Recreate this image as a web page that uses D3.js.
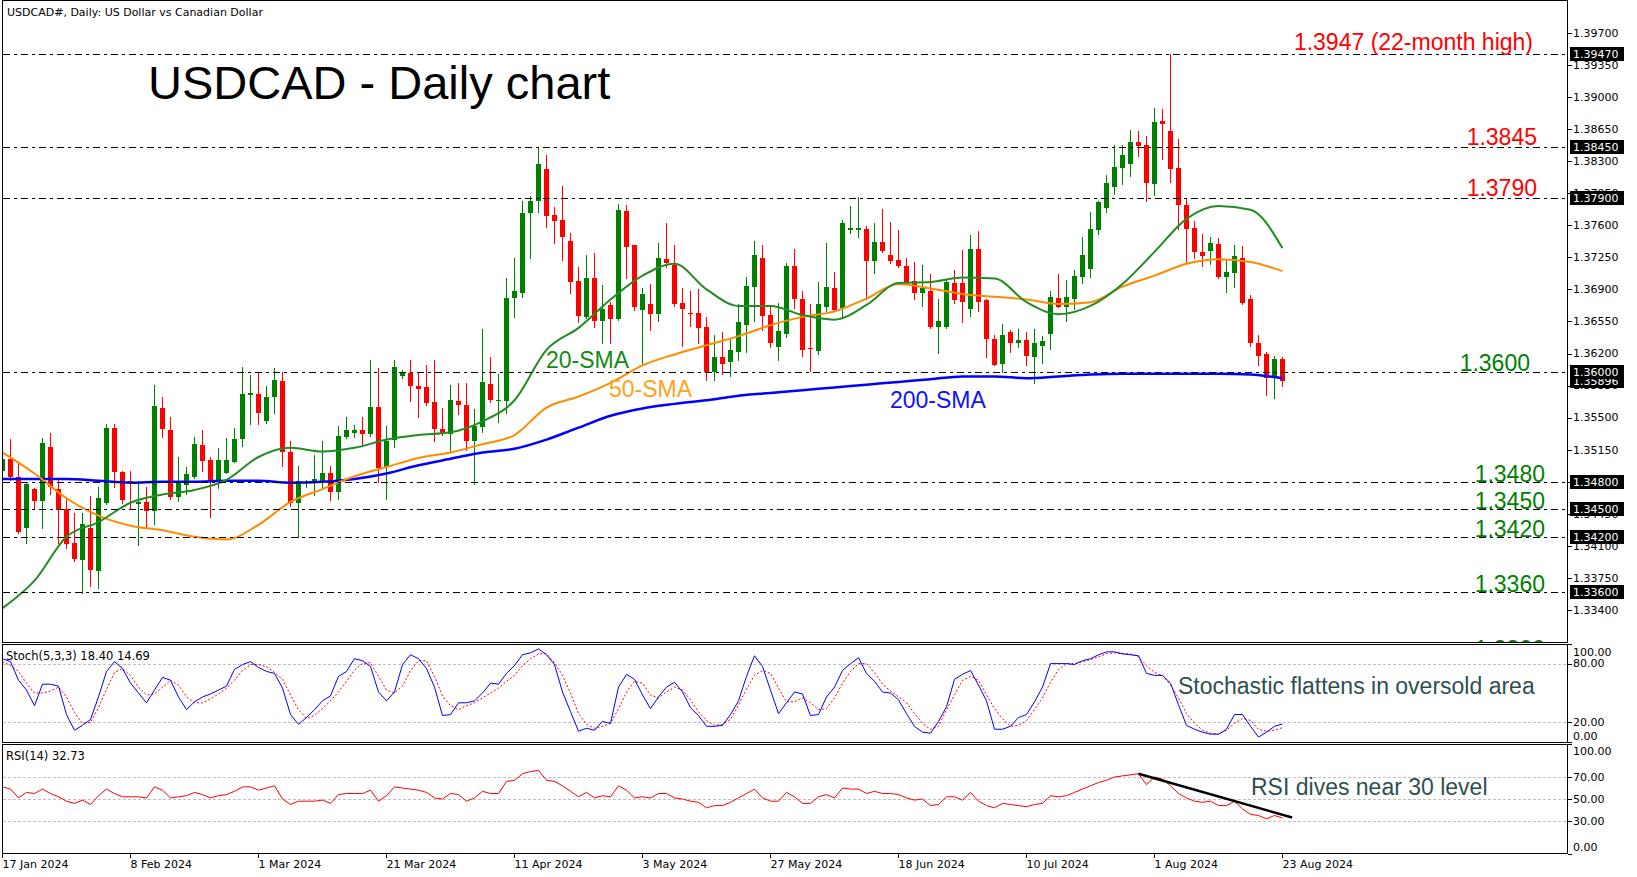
<!DOCTYPE html>
<html>
<head>
<meta charset="utf-8">
<script src="https://cdn.jsdelivr.net/npm/d3@7"></script>
<style>
  body { margin: 0; background: #fff; }
  svg { display: block; font-family: "DejaVu Sans", sans-serif; }
</style>
</head>
<body>
<svg width="1637" height="877"></svg>
<script>
// daily candles, 17 Jan 2024 .. 23 Aug 2024
const open = [
  1.3492, 1.3505, 1.3485, 1.3430, 1.3472, 1.3459, 1.3518, 1.3472, 1.3450, 1.3413,
  1.3395, 1.3430, 1.3383, 1.3457, 1.3539, 1.3491, 1.3481, 1.3456, 1.3458, 1.3448,
  1.3560, 1.3537, 1.3463, 1.3476, 1.3485, 1.3520, 1.3504, 1.3480, 1.3490, 1.3502,
  1.3527, 1.3575, 1.3576, 1.3546, 1.3572, 1.3590, 1.3512, 1.3457, 1.3479, 1.3481,
  1.3481, 1.3490, 1.3469, 1.3529, 1.3533, 1.3536, 1.3532, 1.3562, 1.3496, 1.3526,
  1.3595, 1.3599, 1.3584, 1.3583, 1.3567, 1.3538, 1.3532, 1.3568, 1.3564, 1.3525,
  1.3540, 1.3587, 1.3568, 1.3568, 1.3681, 1.3686, 1.3773, 1.3786, 1.3822, 1.3771,
  1.3766, 1.3743, 1.3699, 1.3660, 1.3702, 1.3655, 1.3673, 1.3658, 1.3776, 1.3738,
  1.3668, 1.3674, 1.3663, 1.3723, 1.3717, 1.3675, 1.3664, 1.3664, 1.3649, 1.3600,
  1.3616, 1.3611, 1.3622, 1.3651, 1.3693, 1.3724, 1.3662, 1.3627, 1.3641, 1.3716,
  1.3679, 1.3626, 1.3623, 1.3671, 1.3692, 1.3670, 1.3755, 1.3755, 1.3756, 1.3721,
  1.3742, 1.3728, 1.3722, 1.3716, 1.3699, 1.3686, 1.3688, 1.3649, 1.3649, 1.3697,
  1.3697, 1.3669, 1.3734, 1.3678, 1.3636, 1.3609, 1.3643, 1.3632, 1.3635, 1.3616,
  1.3628, 1.3641, 1.3681, 1.3671, 1.3680, 1.3704, 1.3712, 1.3755, 1.3779, 1.3802,
  1.3823, 1.3827, 1.3851, 1.3848, 1.3805, 1.3874, 1.3863, 1.3823, 1.3782, 1.3757,
  1.3731, 1.3732, 1.3740, 1.3703, 1.3708, 1.3724, 1.3679, 1.3632, 1.3619, 1.3593,
  1.3614
];
const high = [
  1.3507, 1.3527, 1.3502, 1.3479, 1.3473, 1.3528, 1.3533, 1.3483, 1.3461, 1.3446,
  1.3446, 1.3464, 1.3474, 1.3543, 1.3543, 1.3492, 1.3492, 1.3481, 1.3474, 1.3586,
  1.3572, 1.3551, 1.3507, 1.3496, 1.3529, 1.3536, 1.3507, 1.3517, 1.3528, 1.3539,
  1.3605, 1.3597, 1.3600, 1.3584, 1.3604, 1.3600, 1.3525, 1.3497, 1.3482, 1.3509,
  1.3525, 1.3497, 1.3541, 1.3551, 1.3542, 1.3551, 1.3613, 1.3604, 1.3541, 1.3613,
  1.3602, 1.3613, 1.3600, 1.3608, 1.3613, 1.3561, 1.3586, 1.3588, 1.3588, 1.3559,
  1.3647, 1.3616, 1.3598, 1.3702, 1.3724, 1.3786, 1.3792, 1.3846, 1.3837, 1.3780,
  1.3803, 1.3752, 1.3714, 1.3728, 1.3730, 1.3695, 1.3676, 1.3783, 1.3782, 1.3739,
  1.3691, 1.3696, 1.3741, 1.3762, 1.3738, 1.3691, 1.3688, 1.3690, 1.3660, 1.3640,
  1.3643, 1.3636, 1.3674, 1.3704, 1.3743, 1.3738, 1.3672, 1.3675, 1.3719, 1.3734,
  1.3688, 1.3674, 1.3698, 1.3741, 1.3709, 1.3766, 1.3781, 1.3791, 1.3759, 1.3763,
  1.3778, 1.3764, 1.3755, 1.3724, 1.3720, 1.3717, 1.3707, 1.3680, 1.3700, 1.3711,
  1.3733, 1.3749, 1.3754, 1.3679, 1.3640, 1.3652, 1.3646, 1.3647, 1.3643, 1.3647,
  1.3639, 1.3688, 1.3707, 1.3700, 1.3711, 1.3747, 1.3774, 1.3786, 1.3815, 1.3848,
  1.3848, 1.3864, 1.3863, 1.3857, 1.3888, 1.3887, 1.3947, 1.3854, 1.3789, 1.3765,
  1.3751, 1.3747, 1.3746, 1.3722, 1.3738, 1.3737, 1.3684, 1.3640, 1.3622, 1.3617,
  1.3616
];
const low = [
  1.3490, 1.3482, 1.3424, 1.3413, 1.3451, 1.3429, 1.3467, 1.3413, 1.3408, 1.3393,
  1.3358, 1.3366, 1.3364, 1.3456, 1.3474, 1.3457, 1.3451, 1.3411, 1.3430, 1.3434,
  1.3529, 1.3461, 1.3459, 1.3467, 1.3484, 1.3492, 1.3441, 1.3473, 1.3489, 1.3501,
  1.3519, 1.3543, 1.3543, 1.3544, 1.3555, 1.3497, 1.3453, 1.3420, 1.3474, 1.3466,
  1.3474, 1.3460, 1.3461, 1.3528, 1.3529, 1.3520, 1.3530, 1.3480, 1.3461, 1.3518,
  1.3593, 1.3568, 1.3551, 1.3564, 1.3524, 1.3531, 1.3513, 1.3554, 1.3515, 1.3477,
  1.3534, 1.3567, 1.3545, 1.3555, 1.3660, 1.3682, 1.3724, 1.3774, 1.3758, 1.3741,
  1.3722, 1.3686, 1.3654, 1.3659, 1.3649, 1.3632, 1.3631, 1.3657, 1.3702, 1.3668,
  1.3608, 1.3646, 1.3656, 1.3715, 1.3672, 1.3628, 1.3650, 1.3631, 1.3591, 1.3591,
  1.3598, 1.3595, 1.3613, 1.3622, 1.3655, 1.3646, 1.3627, 1.3613, 1.3638, 1.3670,
  1.3617, 1.3601, 1.3620, 1.3666, 1.3666, 1.3660, 1.3752, 1.3747, 1.3679, 1.3708,
  1.3731, 1.3719, 1.3715, 1.3697, 1.3679, 1.3672, 1.3648, 1.3621, 1.3648, 1.3675,
  1.3654, 1.3661, 1.3666, 1.3616, 1.3607, 1.3600, 1.3622, 1.3627, 1.3607, 1.3588,
  1.3610, 1.3625, 1.3671, 1.3655, 1.3669, 1.3697, 1.3704, 1.3750, 1.3775, 1.3794,
  1.3805, 1.3814, 1.3836, 1.3786, 1.3793, 1.3832, 1.3807, 1.3756, 1.3719, 1.3724,
  1.3716, 1.3718, 1.3702, 1.3687, 1.3693, 1.3674, 1.3628, 1.3608, 1.3575, 1.3571,
  1.3584
];
const close = [
  1.3505, 1.3485, 1.3425, 1.3478, 1.3459, 1.3522, 1.3474, 1.3449, 1.3412, 1.3396,
  1.3434, 1.3384, 1.3462, 1.3539, 1.3491, 1.3460, 1.3479, 1.3458, 1.3448, 1.3563,
  1.3538, 1.3463, 1.3480, 1.3488, 1.3521, 1.3503, 1.3480, 1.3504, 1.3504, 1.3527,
  1.3576, 1.3577, 1.3555, 1.3573, 1.3591, 1.3512, 1.3457, 1.3481, 1.3480, 1.3483,
  1.3490, 1.3469, 1.3530, 1.3537, 1.3537, 1.3532, 1.3562, 1.3495, 1.3525, 1.3605,
  1.3600, 1.3584, 1.3581, 1.3566, 1.3538, 1.3533, 1.3569, 1.3564, 1.3525, 1.3541,
  1.3589, 1.3569, 1.3569, 1.3681, 1.3688, 1.3773, 1.3787, 1.3827, 1.3770, 1.3765,
  1.3747, 1.3698, 1.3661, 1.3702, 1.3655, 1.3669, 1.3658, 1.3777, 1.3736, 1.3671,
  1.3685, 1.3663, 1.3724, 1.3719, 1.3674, 1.3669, 1.3663, 1.3648, 1.3600, 1.3616,
  1.3609, 1.3624, 1.3654, 1.3694, 1.3728, 1.3661, 1.3632, 1.3645, 1.3716, 1.3679,
  1.3624, 1.3625, 1.3674, 1.3693, 1.3668, 1.3763, 1.3757, 1.3757, 1.3721, 1.3742,
  1.3732, 1.3721, 1.3716, 1.3698, 1.3686, 1.3692, 1.3649, 1.3656, 1.3698, 1.3678,
  1.3676, 1.3734, 1.3676, 1.3636, 1.3608, 1.3640, 1.3632, 1.3635, 1.3617, 1.3631,
  1.3634, 1.3682, 1.3671, 1.3682, 1.3705, 1.3728, 1.3756, 1.3785, 1.3806, 1.3824,
  1.3837, 1.3851, 1.3847, 1.3806, 1.3873, 1.3871, 1.3822, 1.3782, 1.3756, 1.3731,
  1.3727, 1.3741, 1.3703, 1.3709, 1.3727, 1.3675, 1.3631, 1.3617, 1.3593, 1.3614,
  1.35896
];

// moving averages read every 4th bar
const smaStep = 4;
const sma20 = [1.3342, 1.3372, 1.3420, 1.3436, 1.3457, 1.3466, 1.3471, 1.3482, 1.3507, 1.3517,
  1.3513, 1.3517, 1.3526, 1.3531, 1.3534, 1.3546, 1.3569, 1.3624, 1.3648, 1.3679,
  1.3705, 1.3718, 1.3690, 1.3672, 1.3672, 1.3662, 1.3657, 1.3673, 1.3697, 1.3698,
  1.3703, 1.3702, 1.3676, 1.3663, 1.3672, 1.3696, 1.3731, 1.3767, 1.3781, 1.3777, 1.3735];
const sma50 = [1.3512, 1.3489, 1.3462, 1.3443, 1.3432, 1.3427, 1.3420, 1.3417, 1.3433, 1.3458,
  1.3472, 1.3486, 1.3496, 1.3506, 1.3512, 1.3521, 1.3531, 1.3561, 1.3573, 1.3588,
  1.3607, 1.3619, 1.3629, 1.3639, 1.3651, 1.3660, 1.3666, 1.3680, 1.3696, 1.3691,
  1.3685, 1.3682, 1.3679, 1.3674, 1.3676, 1.3693, 1.3705, 1.3718, 1.3723, 1.3720, 1.3710];
const sma200 = [1.3483, 1.3483, 1.3483, 1.3481, 1.3479, 1.3480, 1.3480, 1.3481, 1.3481, 1.3479,
  1.3480, 1.3483, 1.3489, 1.3498, 1.3505, 1.3512, 1.3516, 1.3526, 1.3539, 1.3552,
  1.3560, 1.3565, 1.3569, 1.3574, 1.3577, 1.3580, 1.3583, 1.3586, 1.3589, 1.3592,
  1.3595, 1.3595, 1.3593, 1.3595, 1.3597, 1.3598, 1.3598, 1.3598, 1.3598, 1.3597, 1.3593];

// Stochastic(5,3,3)
const stochK = [
  85, 82, 63, 53, 37, 59, 59, 57, 28, 12, 17, 23, 46, 72, 82, 75, 60, 50, 40, 53,
  66, 63, 46, 33, 41, 46, 49, 53, 57, 74, 79, 82, 76, 72, 70, 55, 28, 18, 25, 33,
  42, 47, 67, 72, 85, 83, 77, 51, 42, 51, 79, 89, 85, 75, 56, 27, 28, 40, 40, 42,
  50, 60, 59, 70, 78, 89, 91, 95, 89, 79, 51, 31, 11, 14, 12, 21, 19, 56, 69, 64,
  48, 34, 46, 56, 61, 51, 35, 27, 16, 16, 17, 28, 42, 67, 88, 77, 53, 29, 40, 51,
  49, 27, 28, 46, 56, 73, 80, 86, 70, 62, 51, 50, 43, 29, 16, 10, 9, 21, 36, 64,
  69, 73, 58, 42, 13, 13, 16, 25, 28, 41, 56, 80, 80, 80, 79, 83, 85, 89, 92, 92,
  90, 89, 88, 70, 68, 68, 60, 38, 17, 13, 10, 8, 8, 13, 28, 28, 16, 5, 10, 16,
  18.4
];
const stochD = [
  82, 78, 72, 60, 50, 50, 52, 56, 46, 30, 19, 20, 35, 54, 71, 75, 68, 56, 48, 49,
  56, 63, 58, 46, 40, 40, 44, 49, 55, 63, 73, 79, 79, 77, 71, 64, 48, 33, 24, 27,
  34, 42, 51, 62, 73, 80, 81, 67, 53, 50, 57, 73, 83, 83, 67, 47, 37, 33, 37, 40,
  45, 50, 55, 62, 68, 78, 85, 90, 90, 81, 68, 50, 29, 18, 14, 16, 19, 34, 51, 62,
  60, 48, 45, 51, 56, 53, 43, 31, 22, 17, 18, 23, 38, 54, 68, 73, 70, 55, 41, 41,
  45, 40, 33, 34, 45, 60, 72, 80, 80, 71, 59, 52, 46, 40, 29, 19, 13, 16, 33, 48,
  63, 67, 63, 48, 34, 24, 16, 17, 22, 33, 45, 61, 74, 80, 80, 82, 84, 87, 90, 91,
  90, 90, 87, 78, 71, 68, 58, 45, 29, 19, 12, 9, 8, 12, 19, 24, 22, 13, 11, 12,
  14.69
];

// RSI(14)
const rsi = [
  61, 59, 51, 56, 55, 59, 55, 52, 48, 46, 49, 45, 53, 59, 55, 52, 52, 52, 51, 61,
  58, 51, 52, 53, 56, 54, 51, 53, 54, 57, 61, 61, 58, 60, 62, 50, 45, 48, 48, 48,
  49, 46, 54, 55, 55, 55, 58, 48, 53, 61, 60, 59, 58, 56, 51, 50, 55, 54, 48, 51,
  57, 55, 55, 66, 67, 73, 75, 76, 67, 66, 62, 57, 52, 56, 51, 53, 52, 62, 58, 51,
  52, 51, 55, 55, 51, 50, 48, 47, 42, 44, 44, 47, 51, 55, 59, 51, 48, 48, 56, 52,
  46, 46, 52, 54, 51, 60, 59, 59, 55, 57, 55, 55, 54, 51, 49, 50, 44, 45, 52, 52,
  49, 56, 48, 44, 42, 46, 45, 44, 43, 45, 46, 53, 52, 53, 56, 59, 62, 65, 67, 70,
  71, 72, 73, 63, 70, 68, 62, 55, 51, 48, 47, 48, 44, 44, 48, 41, 36, 35, 32, 35,
  32.73
];
const rsiTrendIdx = [142, 161.2];
const rsiTrendVal = [73, 33.2];

// levels and axis labels
const levels = [1.3947, 1.3845, 1.3790, 1.3600, 1.3480, 1.3450, 1.3420, 1.3360];
const levelTexts = ["1.3947 (22-month high)", "1.3845", "1.3790", "1.3600", "1.3480", "1.3450", "1.3420", "1.3360"];
const lastPrice = 1.35896;
const priceTicks = [1.3340, 1.3375, 1.3410, 1.3445, 1.3480, 1.3515, 1.3550, 1.3585, 1.3620, 1.3655,
  1.3690, 1.3725, 1.3760, 1.3795, 1.3830, 1.3865, 1.3900, 1.3935, 1.3970];
const stochTicks = [100, 80, 20, 0];
const rsiTicks = [100, 70, 50, 30, 0];
const dateLabels = ["17 Jan 2024", "8 Feb 2024", "1 Mar 2024", "21 Mar 2024", "11 Apr 2024", "3 May 2024",
  "27 May 2024", "18 Jun 2024", "10 Jul 2024", "1 Aug 2024", "23 Aug 2024"];
const dateIdx = [0, 16, 32, 48, 64, 80, 96, 112, 128, 144, 160];

const svg = d3.select("svg");
const width = +svg.attr("width");
const height = +svg.attr("height");

const axisX = 1567.5;
const panels = {
  main: { top: 0.5, bottom: 642.5 },
  stoch: { top: 644.5, bottom: 742.5 },
  rsi: { top: 744.5, bottom: 853.5 }
};

const xScale = d3.scaleLinear().domain([0, 160]).range([2.5, 1282.5]);
const yScale = d3.scaleLinear().domain([1.3305, 1.4006]).range([642, 0]);
const stochScale = d3.scaleLinear().domain([0, 100]).range([742, 644]);
const rsiScale = d3.scaleLinear().domain([0, 100]).range([854, 744]);

svg.append("rect").attr("width", width).attr("height", height).attr("fill", "#fff");

const defs = svg.append("defs");
Object.entries(panels).forEach(([name, p]) => {
  defs.append("clipPath").attr("id", "clip-" + name)
    .append("rect")
    .attr("x", 3).attr("y", p.top + 0.5)
    .attr("width", axisX - 3.5).attr("height", p.bottom - p.top - 1);
});

// ---------- main panel ----------
const gMain = svg.append("g").attr("clip-path", "url(#clip-main)");

const bars = close.map((c, i) => ({ i, o: open[i], h: high[i], l: low[i], c }));
const candleColor = (d) => (d.c >= d.o ? "#008000" : "#ff0000");

gMain.selectAll("line.wick")
  .data(bars)
  .join("line")
  .attr("class", "wick")
  .attr("x1", (d) => Math.floor(xScale(d.i)) + 0.5)
  .attr("x2", (d) => Math.floor(xScale(d.i)) + 0.5)
  .attr("y1", (d) => Math.round(yScale(d.h)))
  .attr("y2", (d) => Math.round(yScale(d.l)) + 1)
  .attr("stroke", candleColor)
  .attr("shape-rendering", "crispEdges");

gMain.selectAll("rect.body")
  .data(bars)
  .join("rect")
  .attr("class", "body")
  .attr("x", (d) => Math.floor(xScale(d.i)) - 2)
  .attr("width", 5)
  .attr("y", (d) => Math.round(yScale(Math.max(d.o, d.c))))
  .attr("height", (d) => Math.max(1,
    Math.round(yScale(Math.min(d.o, d.c))) - Math.round(yScale(Math.max(d.o, d.c)))))
  .attr("fill", candleColor)
  .attr("shape-rendering", "crispEdges");

const smaLine = d3.line()
  .x((d, k) => xScale(k * smaStep))
  .y((d) => yScale(d))
  .curve(d3.curveMonotoneX);

gMain.append("path").attr("d", smaLine(sma200)).attr("fill", "none").attr("stroke", "#0000ff").attr("stroke-width", 2.5);
gMain.append("path").attr("d", smaLine(sma50)).attr("fill", "none").attr("stroke", "#ff8c00").attr("stroke-width", 2);
gMain.append("path").attr("d", smaLine(sma20)).attr("fill", "none").attr("stroke", "#228b22").attr("stroke-width", 2);

gMain.selectAll("line.level")
  .data(levels)
  .join("line")
  .attr("class", "level")
  .attr("x1", 3)
  .attr("x2", axisX)
  .attr("y1", (d) => Math.round(yScale(d)) + 0.5)
  .attr("y2", (d) => Math.round(yScale(d)) + 0.5)
  .attr("stroke", "#000")
  .attr("stroke-dasharray", "7,4,3,4")
  .attr("shape-rendering", "crispEdges");

// level captions sit on their lines
const levelStyle = [
  { x: 1533, dy: -4, color: "#ff0000" },
  { x: 1537, dy: -2, color: "#ff0000" },
  { x: 1537, dy: -2, color: "#ff0000" },
  { x: 1530, dy: -1, color: "#008000" },
  { x: 1545, dy: 0, color: "#008000" },
  { x: 1545, dy: 0, color: "#008000" },
  { x: 1545, dy: 0, color: "#008000" },
  { x: 1545, dy: 0, color: "#008000" }
];
gMain.selectAll("text.levelText")
  .data(levels)
  .join("text")
  .attr("class", "levelText")
  .attr("x", (d, k) => levelStyle[k].x)
  .attr("y", (d, k) => yScale(d) + levelStyle[k].dy)
  .attr("text-anchor", "end")
  .attr("fill", (d, k) => levelStyle[k].color)
  .style("font-family", "'Liberation Sans', Arial, sans-serif")
  .style("font-size", "23px")
  .text((d, k) => levelTexts[k]);

// a caption under the panel edge, only its top shows
gMain.append("text")
  .attr("x", 1545).attr("y", 657)
  .attr("text-anchor", "end").attr("fill", "#008000")
  .style("font-family", "'Liberation Sans', Arial, sans-serif")
  .style("font-size", "23px")
  .text("1.3300");

const bigFont = "'Liberation Sans', Arial, sans-serif";
gMain.append("text").attr("x", 148).attr("y", 99)
  .style("font-family", bigFont).style("font-size", "47px").attr("fill", "#000")
  .text("USDCAD - Daily chart");
gMain.append("text").attr("x", 546).attr("y", 368)
  .style("font-family", bigFont).style("font-size", "23px").attr("fill", "#138a13")
  .text("20-SMA");
gMain.append("text").attr("x", 609).attr("y", 397)
  .style("font-family", bigFont).style("font-size", "23px").attr("fill", "#ffa31a")
  .text("50-SMA");
gMain.append("text").attr("x", 890).attr("y", 408)
  .style("font-family", bigFont).style("font-size", "23px").attr("fill", "#1010ff")
  .text("200-SMA");

svg.append("text").attr("x", 7).attr("y", 16)
  .style("font-size", "11px").attr("fill", "#000")
  .text("USDCAD#, Daily:  US Dollar vs Canadian Dollar");

// ---------- stochastic panel ----------
const gStoch = svg.append("g").attr("clip-path", "url(#clip-stoch)");
gStoch.selectAll("line.grid")
  .data([80, 20])
  .join("line")
  .attr("class", "grid")
  .attr("x1", 3).attr("x2", axisX)
  .attr("y1", (d) => Math.round(stochScale(d)) + 0.5)
  .attr("y2", (d) => Math.round(stochScale(d)) + 0.5)
  .attr("stroke", "#c0c0c0").attr("stroke-dasharray", "3,2")
  .attr("shape-rendering", "crispEdges");

const stochLine = d3.line().x((d, i) => xScale(i)).y((d) => stochScale(d));
gStoch.append("path").attr("d", stochLine(stochD)).attr("fill", "none")
  .attr("stroke", "#ff0000").attr("stroke-width", 1).attr("stroke-dasharray", "2,2");
gStoch.append("path").attr("d", stochLine(stochK)).attr("fill", "none")
  .attr("stroke", "#0000ff").attr("stroke-width", 1);

svg.append("text").attr("x", 6).attr("y", 660).style("font-size", "11.5px")
  .text("Stoch(5,3,3) 18.40 14.69");
svg.append("text").attr("x", 1178).attr("y", 694)
  .style("font-family", bigFont).style("font-size", "23px").attr("fill", "#2f4f4f")
  .text("Stochastic flattens in oversold area");

// ---------- RSI panel ----------
const gRsi = svg.append("g").attr("clip-path", "url(#clip-rsi)");
gRsi.selectAll("line.grid")
  .data([70, 50, 30])
  .join("line")
  .attr("class", "grid")
  .attr("x1", 3).attr("x2", axisX)
  .attr("y1", (d) => Math.round(rsiScale(d)) + 0.5)
  .attr("y2", (d) => Math.round(rsiScale(d)) + 0.5)
  .attr("stroke", "#c0c0c0").attr("stroke-dasharray", "3,2")
  .attr("shape-rendering", "crispEdges");

const rsiLine = d3.line().x((d, i) => xScale(i)).y((d) => rsiScale(d));
gRsi.append("path").attr("d", rsiLine(rsi)).attr("fill", "none")
  .attr("stroke", "#ff0000").attr("stroke-width", 1);

gRsi.append("line")
  .attr("x1", xScale(rsiTrendIdx[0])).attr("y1", rsiScale(rsiTrendVal[0]))
  .attr("x2", xScale(rsiTrendIdx[1])).attr("y2", rsiScale(rsiTrendVal[1]))
  .attr("stroke", "#000").attr("stroke-width", 2.5);

svg.append("text").attr("x", 6).attr("y", 760).style("font-size", "11.5px")
  .text("RSI(14) 32.73");
svg.append("text").attr("x", 1251).attr("y", 795)
  .style("font-family", bigFont).style("font-size", "23px").attr("fill", "#2f4f4f")
  .text("RSI dives near 30 level");

// ---------- frames ----------
Object.values(panels).forEach((p) => {
  svg.append("rect")
    .attr("x", 2.5).attr("y", p.top)
    .attr("width", axisX - 2.5).attr("height", p.bottom - p.top)
    .attr("fill", "none").attr("stroke", "#000")
    .attr("shape-rendering", "crispEdges");
});

// ---------- right axis ----------
const axisG = svg.append("g").style("font-size", "11px");

axisG.selectAll("line.ptick").data(priceTicks).join("line")
  .attr("x1", axisX).attr("x2", axisX + 4)
  .attr("y1", (d) => Math.round(yScale(d)) + 0.5).attr("y2", (d) => Math.round(yScale(d)) + 0.5)
  .attr("stroke", "#000").attr("shape-rendering", "crispEdges");
axisG.selectAll("text.ptick").data(priceTicks).join("text")
  .attr("class", "ptick")
  .attr("x", 1573).attr("y", (d) => yScale(d)).attr("dy", "0.35em")
  .text((d) => d3.format(".5f")(d));

const boxes = [lastPrice].concat(levels.slice().reverse());
const boxG = axisG.selectAll("g.box").data(boxes).join("g")
  .attr("class", "box")
  .attr("transform", (d) => `translate(1570,${Math.round(yScale(d))})`);
boxG.append("rect").attr("x", 0).attr("y", -7).attr("width", 54).attr("height", 14).attr("fill", "#000");
boxG.append("text").attr("x", 3).attr("y", 0).attr("dy", "0.35em").attr("fill", "#fff")
  .text((d) => d3.format(".5f")(d));

const stochOffset = (d) => (d === 100 ? 8 : d === 0 ? -6 : 0);
axisG.selectAll("text.stick").data(stochTicks).join("text")
  .attr("class", "stick")
  .attr("x", 1573).attr("y", (d) => stochScale(d) + stochOffset(d)).attr("dy", "0.35em")
  .text((d) => d3.format(".2f")(d));
axisG.selectAll("line.stick").data(stochTicks).join("line")
  .attr("class", "stick")
  .attr("x1", axisX).attr("x2", axisX + 4)
  .attr("y1", (d) => Math.round(stochScale(d)) + 0.5).attr("y2", (d) => Math.round(stochScale(d)) + 0.5)
  .attr("stroke", "#000").attr("shape-rendering", "crispEdges");

const rsiOffset = (d) => (d === 100 ? 7 : d === 0 ? -7 : 0);
axisG.selectAll("text.rtick").data(rsiTicks).join("text")
  .attr("class", "rtick")
  .attr("x", 1573).attr("y", (d) => rsiScale(d) + rsiOffset(d)).attr("dy", "0.35em")
  .text((d) => d3.format(".2f")(d));
axisG.selectAll("line.rtick").data(rsiTicks).join("line")
  .attr("class", "rtick")
  .attr("x1", axisX).attr("x2", axisX + 4)
  .attr("y1", (d) => Math.round(rsiScale(d)) + 0.5).attr("y2", (d) => Math.round(rsiScale(d)) + 0.5)
  .attr("stroke", "#000").attr("shape-rendering", "crispEdges");

// ---------- date axis ----------
const dateG = svg.append("g").style("font-size", "11px");
dateG.selectAll("line").data(dateIdx).join("line")
  .attr("x1", (d) => Math.floor(xScale(d)) + 0.5).attr("x2", (d) => Math.floor(xScale(d)) + 0.5)
  .attr("y1", 853.5).attr("y2", 858)
  .attr("stroke", "#000").attr("shape-rendering", "crispEdges");
dateG.selectAll("text").data(dateIdx).join("text")
  .attr("x", (d) => xScale(d))
  .attr("y", 868)
  .text((d, k) => dateLabels[k]);
</script>
</body>
</html>
